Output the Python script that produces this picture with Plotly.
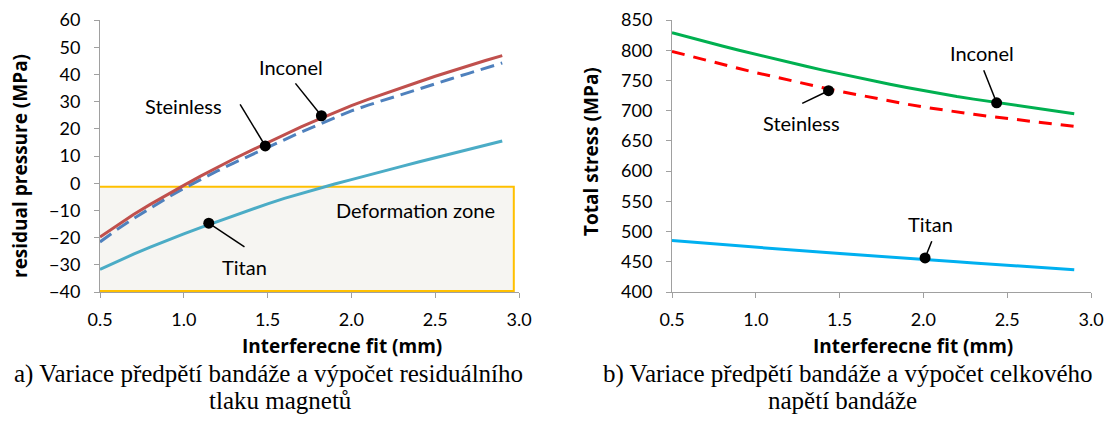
import plotly.graph_objects as go

# ---------------- data ----------------
fit_mm = [0.5, 0.6, 0.7, 0.8, 0.9, 1.0, 1.1, 1.2, 1.3, 1.4, 1.5, 1.6, 1.7,
          1.8, 1.9, 2.0, 2.1, 2.2, 2.3, 2.4, 2.5, 2.6, 2.7, 2.8, 2.9]

# (a) residual pressure (MPa)
res_inconel = [-19.8, -15.5, -11.5, -7.8, -4.2, -0.8, 2.6, 5.9, 9.0, 12.0, 15.0,
               17.9, 20.7, 23.4, 26.0, 28.5, 30.8, 33.0, 35.1, 37.2, 39.3,
               41.3, 43.2, 45.1, 46.9]
res_steinless = [-21.6, -17.1, -13.0, -9.1, -5.4, -1.9, 1.4, 4.5, 7.5, 10.4, 13.3,
                 16.1, 18.8, 21.4, 24.0, 26.6, 28.7, 30.7, 32.7, 34.7, 36.6,
                 38.5, 40.4, 42.3, 44.2]
res_titan = [-31.7, -28.8, -26.1, -23.5, -21.0, -18.6, -16.3, -14.1, -11.9, -9.7, -7.6,
             -5.6, -3.8, -2.0, -0.3, 1.3, 3.0, 4.6, 6.2, 7.8, 9.3,
             10.9, 12.4, 14.0, 15.5]

# (b) total stress (MPa)
tot_inconel = [829.0, 821.4, 814.0, 806.9, 799.9, 793.0, 786.3, 779.8, 773.4, 767.1, 761.0,
               755.1, 749.3, 743.7, 738.3, 733.0, 728.0, 723.4, 719.1, 715.0, 711.0,
               707.0, 703.0, 699.0, 695.0]
tot_steinless = [798.0, 790.7, 783.6, 776.6, 769.7, 763.0, 756.5, 750.2, 744.0, 737.9, 732.0,
                 726.4, 721.0, 715.8, 710.8, 706.0, 701.6, 697.6, 693.9, 690.4, 687.0,
                 683.6, 680.3, 677.1, 674.0]
tot_titan = [485.0, 482.7, 480.5, 478.3, 476.1, 474.0, 471.9, 469.8, 467.7, 465.6, 463.5,
             461.5, 459.5, 457.5, 455.5, 453.5, 451.7, 449.9, 448.1, 446.3, 444.5,
             442.6, 440.7, 438.9, 437.0]

x_ticks = [0.5, 1.0, 1.5, 2.0, 2.5, 3.0]
x_ticktext = ["0.5", "1.0", "1.5", "2.0", "2.5", "3.0"]
ya_ticks = [-40, -30, -20, -10, 0, 10, 20, 30, 40, 50, 60]
yb_ticks = [400, 450, 500, 550, 600, 650, 700, 750, 800, 850]

# labels: (name, text position, leader start, marker position)
labels_a = [
    ("Inconel",   (1.642, 42.6),  (1.666, 36.7),  (1.821, 24.8)),
    ("Steinless", (1.000, 28.5),  (1.336, 29.0),  (1.486, 13.7)),
    ("Titan",     (1.362, -30.8), (1.362, -23.4), (1.149, -14.7)),
]
labels_b = [
    ("Inconel",   (2.35, 796),  (2.36, 767),  (2.437, 713)),
    ("Steinless", (1.275, 680), (1.277, 712), (1.434, 733)),
    ("Titan",     (2.045, 513), (2.05, 484),  (2.01, 456.4)),
]
zone_box = (0.474, -39.6, 2.969, -1.35)
zone_text = ("Deformation zone", 2.384, -9.7)

caption_a = ["a) Variace předpětí bandáže a výpočet residuálního", "tlaku magnetů"]
caption_b = ["b) Variace předpětí bandáže a výpočet celkového", "napětí bandáže"]

# ---------------- figure ----------------
W, H = 1113, 427
fig = go.Figure()

def px_x(p):
    return p / W

def px_y(p):
    return 1 - p / H

# left chart traces
fig.add_trace(go.Scatter(x=fit_mm, y=res_steinless, mode="lines", xaxis="x", yaxis="y",
                         line=dict(color="#4F81BD", width=3, dash="14px,7px")))
fig.add_trace(go.Scatter(x=fit_mm, y=res_inconel, mode="lines", xaxis="x", yaxis="y",
                         line=dict(color="#C0504D", width=3)))
fig.add_trace(go.Scatter(x=fit_mm, y=res_titan, mode="lines", xaxis="x", yaxis="y",
                         line=dict(color="#4BACC6", width=3)))

# right chart traces
fig.add_trace(go.Scatter(x=fit_mm, y=tot_inconel, mode="lines", xaxis="x2", yaxis="y2",
                         line=dict(color="#00B050", width=3)))
fig.add_trace(go.Scatter(x=fit_mm, y=tot_steinless, mode="lines", xaxis="x2", yaxis="y2",
                         line=dict(color="#FF0000", width=3, dash="13px,9px")))
fig.add_trace(go.Scatter(x=fit_mm, y=tot_titan, mode="lines", xaxis="x2", yaxis="y2",
                         line=dict(color="#00B0F0", width=3)))

annotations = []
shapes = []

# deformation zone box
shapes.append(dict(type="rect", xref="x", yref="y", x0=zone_box[0], y0=zone_box[1],
                   x1=zone_box[2], y1=zone_box[3], fillcolor="#F6F5F2",
                   line=dict(color="#FFC000", width=2), layer="below"))
annotations.append(dict(xref="x", yref="y", x=zone_text[1], y=zone_text[2], text=zone_text[0],
                        showarrow=False, font=dict(family="Lato", size=20, color="black")))

for labels, xr, yr in ((labels_a, "x", "y"), (labels_b, "x2", "y2")):
    for name, tpos, lstart, mpos in labels:
        annotations.append(dict(xref=xr, yref=yr, x=tpos[0], y=tpos[1], text=name,
                                showarrow=False,
                                font=dict(family="Lato", size=20, color="black")))
        fig.add_trace(go.Scatter(x=[lstart[0], mpos[0]], y=[lstart[1], mpos[1]],
                                 mode="lines", xaxis=xr, yaxis=yr,
                                 line=dict(color="black", width=1.5)))
        fig.add_trace(go.Scatter(x=[mpos[0]], y=[mpos[1]], mode="markers", xaxis=xr, yaxis=yr,
                                 marker=dict(color="black", size=11)))

# axis titles
title_font = dict(family="Open Sans", size=19, color="black")
annotations.append(dict(xref="paper", yref="paper", x=px_x(20), y=px_y(166),
                        text="<b>residual pressure (MPa)</b>", textangle=-90, showarrow=False,
                        font=title_font, xanchor="center", yanchor="middle"))
annotations.append(dict(xref="paper", yref="paper", x=px_x(591), y=px_y(152),
                        text="<b>Total stress (MPa)</b>", textangle=-90, showarrow=False,
                        font=title_font, xanchor="center", yanchor="middle"))
annotations.append(dict(xref="paper", yref="paper", x=px_x(342), y=px_y(346),
                        text="<b>Interferecne fit (mm)</b>", showarrow=False,
                        font=title_font, xanchor="center", yanchor="middle"))
annotations.append(dict(xref="paper", yref="paper", x=px_x(913), y=px_y(346),
                        text="<b>Interferecne fit (mm)</b>", showarrow=False,
                        font=title_font, xanchor="center", yanchor="middle"))

# captions
cap_font = dict(family="Liberation Serif", size=25, color="black")
caption_layout = [((caption_a[0], 268), (caption_a[1], 280)),
                  ((caption_b[0], 848), (caption_b[1], 842))]
for lines in caption_layout:
    for i, (line, cx) in enumerate(lines):
        annotations.append(dict(xref="paper", yref="paper", x=px_x(cx), y=px_y(374 + 26 * i),
                                text=line, showarrow=False, font=cap_font,
                                xanchor="center", yanchor="middle"))

axis_common = dict(showgrid=False, zeroline=False, showline=True, linecolor="#A0A0A0",
                   linewidth=1, ticks="outside", ticklen=5, tickcolor="#A0A0A0",
                   tickfont=dict(family="Lato", size=18, color="black"), fixedrange=True,
                   automargin=False)

fig.update_layout(
    width=W, height=H,
    margin=dict(l=0, r=0, t=0, b=0, autoexpand=False),
    paper_bgcolor="white", plot_bgcolor="white",
    showlegend=False,
    xaxis=dict(domain=[px_x(100), px_x(519)], range=[0.5, 3.0], tickvals=x_ticks,
               ticktext=x_ticktext, anchor="y", ticklabelstandoff=6, **axis_common),
    yaxis=dict(domain=[px_y(292), px_y(20)], range=[-40, 60], tickvals=ya_ticks,
               anchor="x", ticklabelstandoff=10, **axis_common),
    xaxis2=dict(domain=[px_x(672), px_x(1091)], range=[0.5, 3.0], tickvals=x_ticks,
                ticktext=x_ticktext, anchor="y2", ticklabelstandoff=6, **axis_common),
    yaxis2=dict(domain=[px_y(292), px_y(20)], range=[400, 850], tickvals=yb_ticks,
                anchor="x2", ticklabelstandoff=10, **axis_common),
    annotations=annotations,
    shapes=shapes,
)

fig.write_html("out.html", config={"displayModeBar": False},
               post_script="document.body.style.margin='0';")
